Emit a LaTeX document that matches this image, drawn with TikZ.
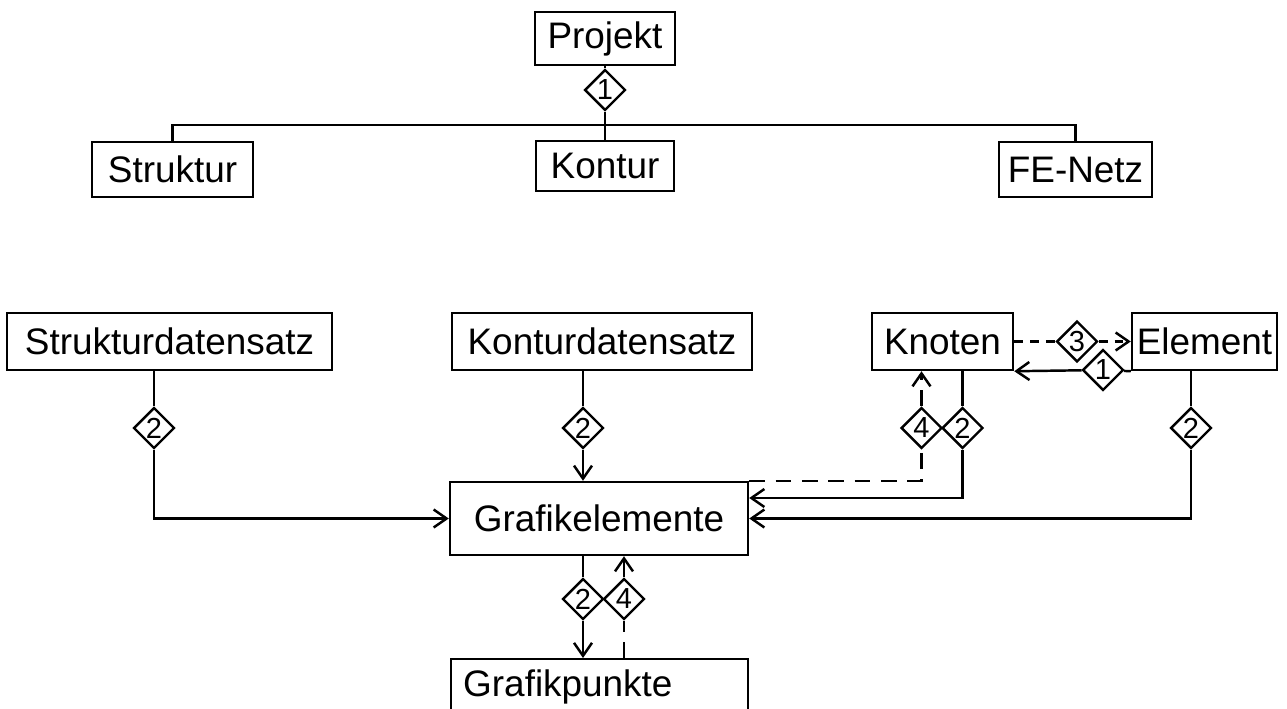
\documentclass[tikz,border=0pt]{standalone}
\usepackage{fontspec}
\setmainfont{Liberation Sans}
\usetikzlibrary{shapes.geometric,arrows.meta}

\newcommand{\boxfont}{\fontsize{21}{24}\selectfont}
\newcommand{\relfont}{\fontsize{16.5}{18}\selectfont}

\begin{document}
\begin{tikzpicture}
  [>={Straight Barb[length=2.6mm,width=3.6mm]},
   every path/.style={line width=1.4pt},
   entity/.style={draw,rectangle,inner sep=0pt,minimum height=1.14cm,font=\boxfont},
   rel/.style={diamond,draw,inner sep=0pt,minimum width=0.82cm,minimum height=0.82cm,fill=white,font=\relfont},
   dep/.style={dash pattern=on 9pt off 6pt}]
  \useasboundingbox (0,0) rectangle (25.74,14.16);

  \node[entity,minimum width=2.8cm,minimum height=1.06cm] (projekt) at (12.10,13.39) {Projekt};
  \node[rel] (r1) at (12.10,12.36) {1};
  \node[entity,minimum width=3.22cm,minimum height=1.1cm] (struktur) at (3.45,10.77) {Struktur};
  \node[entity,minimum width=2.76cm,minimum height=1.0cm] (kontur) at (12.10,10.84) {Kontur};
  \node[entity,minimum width=3.06cm,minimum height=1.1cm] (fenetz) at (21.51,10.77) {FE-Netz};
  \coordinate (bar) at (12.10,11.66);

  \node[entity,minimum width=6.5cm] (strukds) at (3.39,7.33) {Strukturdatensatz};
  \node[entity,minimum width=6.0cm] (konturds) at (12.04,7.33) {Konturdatensatz};
  \node[entity,minimum width=2.82cm] (knoten) at (18.85,7.33) {Knoten};
  \node[entity,minimum width=2.9cm] (element) at (24.09,7.33) {Element};
  \node[entity,minimum width=5.96cm,minimum height=1.46cm] (grafel) at (11.98,3.79) {Grafikelemente};
  \node[entity,anchor=north west,inner xsep=0.24cm,inner ysep=0.22cm,text width=5.46cm,align=left,minimum height=0pt] (grafpk) at (9.0,1.0) {Grafikpunkte};

  \node[rel] (r2a) at (3.08,5.60) {2};
  \node[rel] (r2b) at (11.66,5.60) {2};
  \node[rel] (r4a) at (18.43,5.60) {4};
  \node[rel] (r2c) at (19.25,5.60) {2};
  \node[rel] (r2d) at (23.82,5.60) {2};
  \node[rel] (r3) at (21.54,7.33) {3};
  \node[rel] (r1b) at (22.06,6.76) {1};
  \node[rel] (r2e) at (11.66,2.18) {2};
  \node[rel] (r4b) at (12.48,2.18) {4};

  \draw (projekt) -- (r1) -- (kontur);
  \draw (struktur.north) |- (bar) -| (fenetz.north);

  \draw (strukds.south -| r2a) -- (r2a);
  \draw[->] (r2a) |- (grafel.west);
  \draw (konturds.south -| r2b) -- (r2b);
  \draw[->] (r2b) -- (grafel.north -| r2b);
  \draw (knoten.south -| r2c) -- (r2c);
  \draw[->] (r2c) |- ([yshift=0.41cm]grafel.east);
  \draw (element.south -| r2d) -- (r2d);
  \draw[->] (r2d) |- (grafel.east);
  \draw[dep] (grafel.north east) -| (r4a);
  \draw[dep,->] (r4a) -- (knoten.south -| r4a);

  \draw[dep,dash pattern=on 5pt off 4pt] (knoten) -- (r3);
  \draw[dep,dash pattern=on 5pt off 4pt,->] (r3) -- (element);
  \draw (element.south west) -- (r1b);
  \draw[->] (r1b) -- (knoten.south east);

  \draw (grafel.south -| r2e) -- (r2e);
  \draw[->] (r2e) -- (grafpk.north -| r2e);
  \draw[dep] (grafpk.north -| r4b) -- (r4b);
  \draw[dep,->] (r4b) -- (grafel.south -| r4b);
\end{tikzpicture}
\end{document}
